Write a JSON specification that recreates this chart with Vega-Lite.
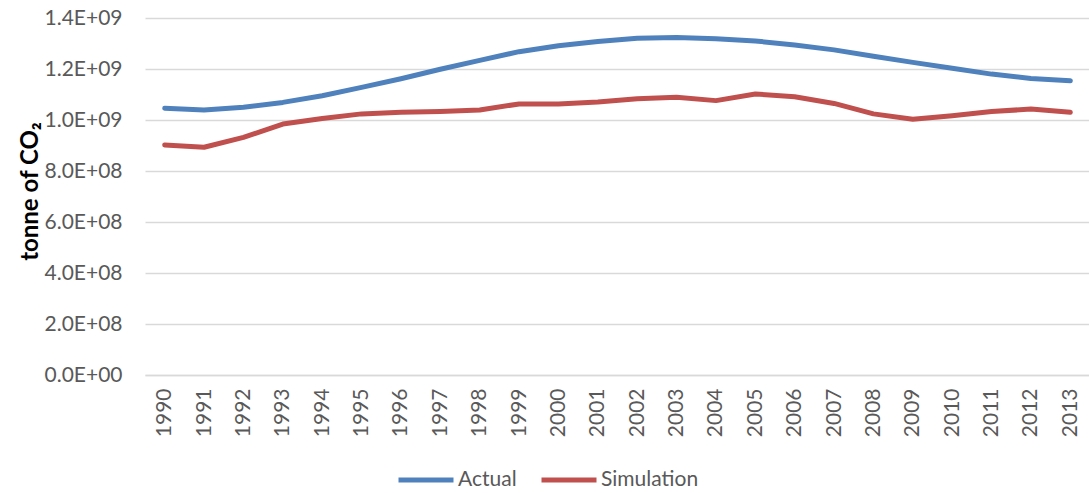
{
  "$schema": "https://vega.github.io/schema/vega-lite/v6.json",
  "width": 945,
  "height": 357,
  "autosize": {"type": "none"},
  "padding": {"left": 145, "top": 18, "right": 0, "bottom": 118},
  "background": "white",
  "config": {
    "view": {"stroke": null},
    "font": "Lato"
  },
  "data": {
    "values": [
      {"year": "1990", "series": "Actual", "value": 1046000000},
      {"year": "1991", "series": "Actual", "value": 1039000000},
      {"year": "1992", "series": "Actual", "value": 1050000000},
      {"year": "1993", "series": "Actual", "value": 1069000000},
      {"year": "1994", "series": "Actual", "value": 1095000000},
      {"year": "1995", "series": "Actual", "value": 1128000000},
      {"year": "1996", "series": "Actual", "value": 1162000000},
      {"year": "1997", "series": "Actual", "value": 1199000000},
      {"year": "1998", "series": "Actual", "value": 1234000000},
      {"year": "1999", "series": "Actual", "value": 1268000000},
      {"year": "2000", "series": "Actual", "value": 1291000000},
      {"year": "2001", "series": "Actual", "value": 1308000000},
      {"year": "2002", "series": "Actual", "value": 1321000000},
      {"year": "2003", "series": "Actual", "value": 1324000000},
      {"year": "2004", "series": "Actual", "value": 1319000000},
      {"year": "2005", "series": "Actual", "value": 1310000000},
      {"year": "2006", "series": "Actual", "value": 1294000000},
      {"year": "2007", "series": "Actual", "value": 1275000000},
      {"year": "2008", "series": "Actual", "value": 1250000000},
      {"year": "2009", "series": "Actual", "value": 1226000000},
      {"year": "2010", "series": "Actual", "value": 1203000000},
      {"year": "2011", "series": "Actual", "value": 1180000000},
      {"year": "2012", "series": "Actual", "value": 1163000000},
      {"year": "2013", "series": "Actual", "value": 1154000000},
      {"year": "1990", "series": "Simulation", "value": 902000000},
      {"year": "1991", "series": "Simulation", "value": 893000000},
      {"year": "1992", "series": "Simulation", "value": 932000000},
      {"year": "1993", "series": "Simulation", "value": 984000000},
      {"year": "1994", "series": "Simulation", "value": 1006000000},
      {"year": "1995", "series": "Simulation", "value": 1024000000},
      {"year": "1996", "series": "Simulation", "value": 1030000000},
      {"year": "1997", "series": "Simulation", "value": 1033000000},
      {"year": "1998", "series": "Simulation", "value": 1039000000},
      {"year": "1999", "series": "Simulation", "value": 1063000000},
      {"year": "2000", "series": "Simulation", "value": 1063000000},
      {"year": "2001", "series": "Simulation", "value": 1071000000},
      {"year": "2002", "series": "Simulation", "value": 1083000000},
      {"year": "2003", "series": "Simulation", "value": 1089000000},
      {"year": "2004", "series": "Simulation", "value": 1076000000},
      {"year": "2005", "series": "Simulation", "value": 1102000000},
      {"year": "2006", "series": "Simulation", "value": 1091000000},
      {"year": "2007", "series": "Simulation", "value": 1065000000},
      {"year": "2008", "series": "Simulation", "value": 1024000000},
      {"year": "2009", "series": "Simulation", "value": 1003000000},
      {"year": "2010", "series": "Simulation", "value": 1017000000},
      {"year": "2011", "series": "Simulation", "value": 1033000000},
      {"year": "2012", "series": "Simulation", "value": 1043000000},
      {"year": "2013", "series": "Simulation", "value": 1030000000}
    ]
  },
  "mark": {"type": "line", "strokeWidth": 5, "strokeCap": "round", "strokeJoin": "round"},
  "encoding": {
    "x": {
      "field": "year",
      "type": "ordinal",
      "scale": {"type": "point", "padding": 0.5},
      "axis": {
        "title": null,
        "labelAngle": -90,
        "labelFontSize": 21,
        "labelColor": "#595959",
        "labelPadding": 13,
        "ticks": false,
        "tickSize": 0,
        "domainColor": "#D9D9D9",
        "domainWidth": 1.5,
        "grid": false
      }
    },
    "y": {
      "field": "value",
      "type": "quantitative",
      "scale": {"domain": [0, 1400000000], "nice": false},
      "axis": {
        "values": [0, 200000000, 400000000, 600000000, 800000000, 1000000000, 1200000000, 1400000000],
        "labelExpr": "datum.value >= 1e9 ? format(datum.value/1e9, '.1f') + 'E+09' : (datum.value > 0 ? format(datum.value/1e8, '.1f') + 'E+08' : '0.0E+00')",
        "labelFontSize": 21,
        "labelColor": "#595959",
        "labelPadding": 23,
        "ticks": false,
        "tickSize": 0,
        "domain": false,
        "grid": true,
        "gridColor": "#D9D9D9",
        "gridWidth": 1.5,
        "title": "tonne of CO₂",
        "titleFontSize": 24,
        "titleFontWeight": "bold",
        "titleColor": "#000000",
        "titleX": -108,
        "titleY": 173,
        "titleAngle": -90,
        "titleAlign": "center",
        "titleBaseline": "alphabetic"
      }
    },
    "color": {
      "field": "series",
      "type": "nominal",
      "scale": {"domain": ["Actual", "Simulation"], "range": ["#4F81BD", "#C0504D"]},
      "legend": {
        "title": null,
        "orient": "none",
        "direction": "horizontal",
        "legendX": 251,
        "legendY": 432,
        "symbolType": "stroke",
        "symbolSize": 3025,
        "symbolStrokeWidth": 5,
        "labelFontSize": 21,
        "labelColor": "#595959",
        "labelOffset": 2,
        "columnPadding": 14
      }
    }
  }
}
